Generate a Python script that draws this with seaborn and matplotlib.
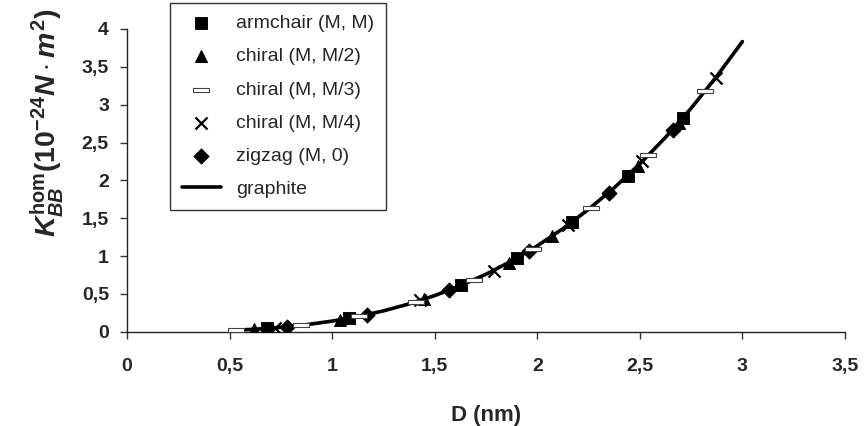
import seaborn as sns
import pandas as pd
import numpy as np
import matplotlib.pyplot as plt
import matplotlib.ticker as ticker

# diameters (nm) and bending stiffness (1e-24 N.m^2)
arm_d = [0.68, 1.08, 1.63, 1.90, 2.17, 2.44, 2.71]
arm_k = [0.045, 0.18, 0.62, 0.97, 1.45, 2.06, 2.83]
ch2_d = [0.62, 1.04, 1.45, 1.86, 2.07, 2.49, 2.69]
ch2_k = [0.034, 0.16, 0.43, 0.91, 1.26, 2.19, 2.76]
ch3_d = [0.53, 0.85, 1.13, 1.41, 1.69, 1.98, 2.26, 2.54, 2.82]
ch3_k = [0.021, 0.087, 0.205, 0.40, 0.685, 1.10, 1.64, 2.33, 3.18]
ch4_d = [0.72, 1.08, 1.43, 1.79, 2.15, 2.51, 2.87]
ch4_k = [0.053, 0.18, 0.415, 0.81, 1.41, 2.25, 3.35]
zig_d = [0.78, 1.17, 1.57, 1.96, 2.35, 2.66]
zig_k = [0.067, 0.227, 0.55, 1.07, 1.84, 2.67]
gra_d = [0.5, 0.625, 0.75, 0.875, 1.0, 1.125, 1.25, 1.375, 1.5, 1.625, 1.75,
         1.875, 2.0, 2.125, 2.25, 2.375, 2.5, 2.625, 2.75, 2.875, 3.0]
gra_k = [0.018, 0.035, 0.060, 0.095, 0.142, 0.202, 0.277, 0.369, 0.479, 0.609, 0.761,
         0.936, 1.136, 1.363, 1.618, 1.902, 2.219, 2.568, 2.953, 3.375, 3.834]

sns.set_style('ticks')
plt.rcParams['font.family'] = ['Liberation Sans', 'DejaVu Sans']
plt.rcParams['mathtext.fontset'] = 'custom'
plt.rcParams['mathtext.rm'] = 'Liberation Sans:bold'
plt.rcParams['mathtext.it'] = 'Liberation Sans:bold:italic'
plt.rcParams['mathtext.bf'] = 'Liberation Sans:bold'

fig = plt.figure(figsize=(8.64, 4.26), dpi=100)
ax = fig.add_axes([0.147, 0.221, 0.831, 0.711])

dash = [(-1, -0.28), (1, -0.28), (1, 0.28), (-1, 0.28), (-1, -0.28)]

sns.scatterplot(x=arm_d, y=arm_k, marker='s', s=65, color='black', edgecolor='black',
                label='armchair (M, M)', ax=ax, zorder=3)
sns.scatterplot(x=ch2_d, y=ch2_k, marker='^', s=75, color='black', edgecolor='black',
                label='chiral (M, M/2)', ax=ax, zorder=3)
sns.scatterplot(x=ch3_d, y=ch3_k, marker=dash, s=120, color='white', edgecolor='#444444',
                linewidth=0.8, label='chiral (M, M/3)', ax=ax, zorder=4)
sns.scatterplot(x=ch4_d, y=ch4_k, marker='x', s=75, color='black', linewidth=1.6,
                label='chiral (M, M/4)', ax=ax, zorder=3)
sns.scatterplot(x=zig_d, y=zig_k, marker='D', s=60, color='black', edgecolor='black',
                label='zigzag (M, 0)', ax=ax, zorder=3)
sns.lineplot(x=gra_d, y=gra_k, color='black', linewidth=2.6, label='graphite', ax=ax,
             zorder=2)

ax.set_xlim(0, 3.5)
ax.set_ylim(0, 4)
ax.xaxis.set_major_locator(ticker.MultipleLocator(0.5))
ax.yaxis.set_major_locator(ticker.MultipleLocator(0.5))
fmt = ticker.FuncFormatter(lambda v, p: ('%g' % v).replace('.', ','))
ax.xaxis.set_major_formatter(fmt)
ax.yaxis.set_major_formatter(fmt)
ax.tick_params(axis='both', labelsize=14, length=5, width=1, color='#333333')
ax.tick_params(axis='x', pad=14)
ax.tick_params(axis='y', pad=8)
for lab in ax.get_xticklabels() + ax.get_yticklabels():
    lab.set_fontweight('bold')
sns.despine(ax=ax)
for sp in ['left', 'bottom']:
    ax.spines[sp].set_color('#222222')
    ax.spines[sp].set_linewidth(1)

ax.set_xlabel('D (nm)', fontsize=16, fontweight='bold')
ax.xaxis.set_label_coords(0.5, -0.24)
ax.set_ylabel(r'$K_{BB}^{\mathrm{hom}}\mathrm{(10^{-24}}N\cdot m^{2}\mathrm{)}$',
              fontsize=20.5)
ax.yaxis.set_label_coords(-0.085, 0.69)

leg = ax.legend(loc='upper left', bbox_to_anchor=(170 / 864, 1 - 3 / 426),
                bbox_transform=fig.transFigure, fontsize=14, frameon=True,
                fancybox=False, edgecolor='black', labelspacing=0.8,
                handlelength=2.0, borderpad=0.6, handletextpad=0.8,
                borderaxespad=0)
leg.get_frame().set_linewidth(1)

fig.savefig('out.png', dpi=100)
